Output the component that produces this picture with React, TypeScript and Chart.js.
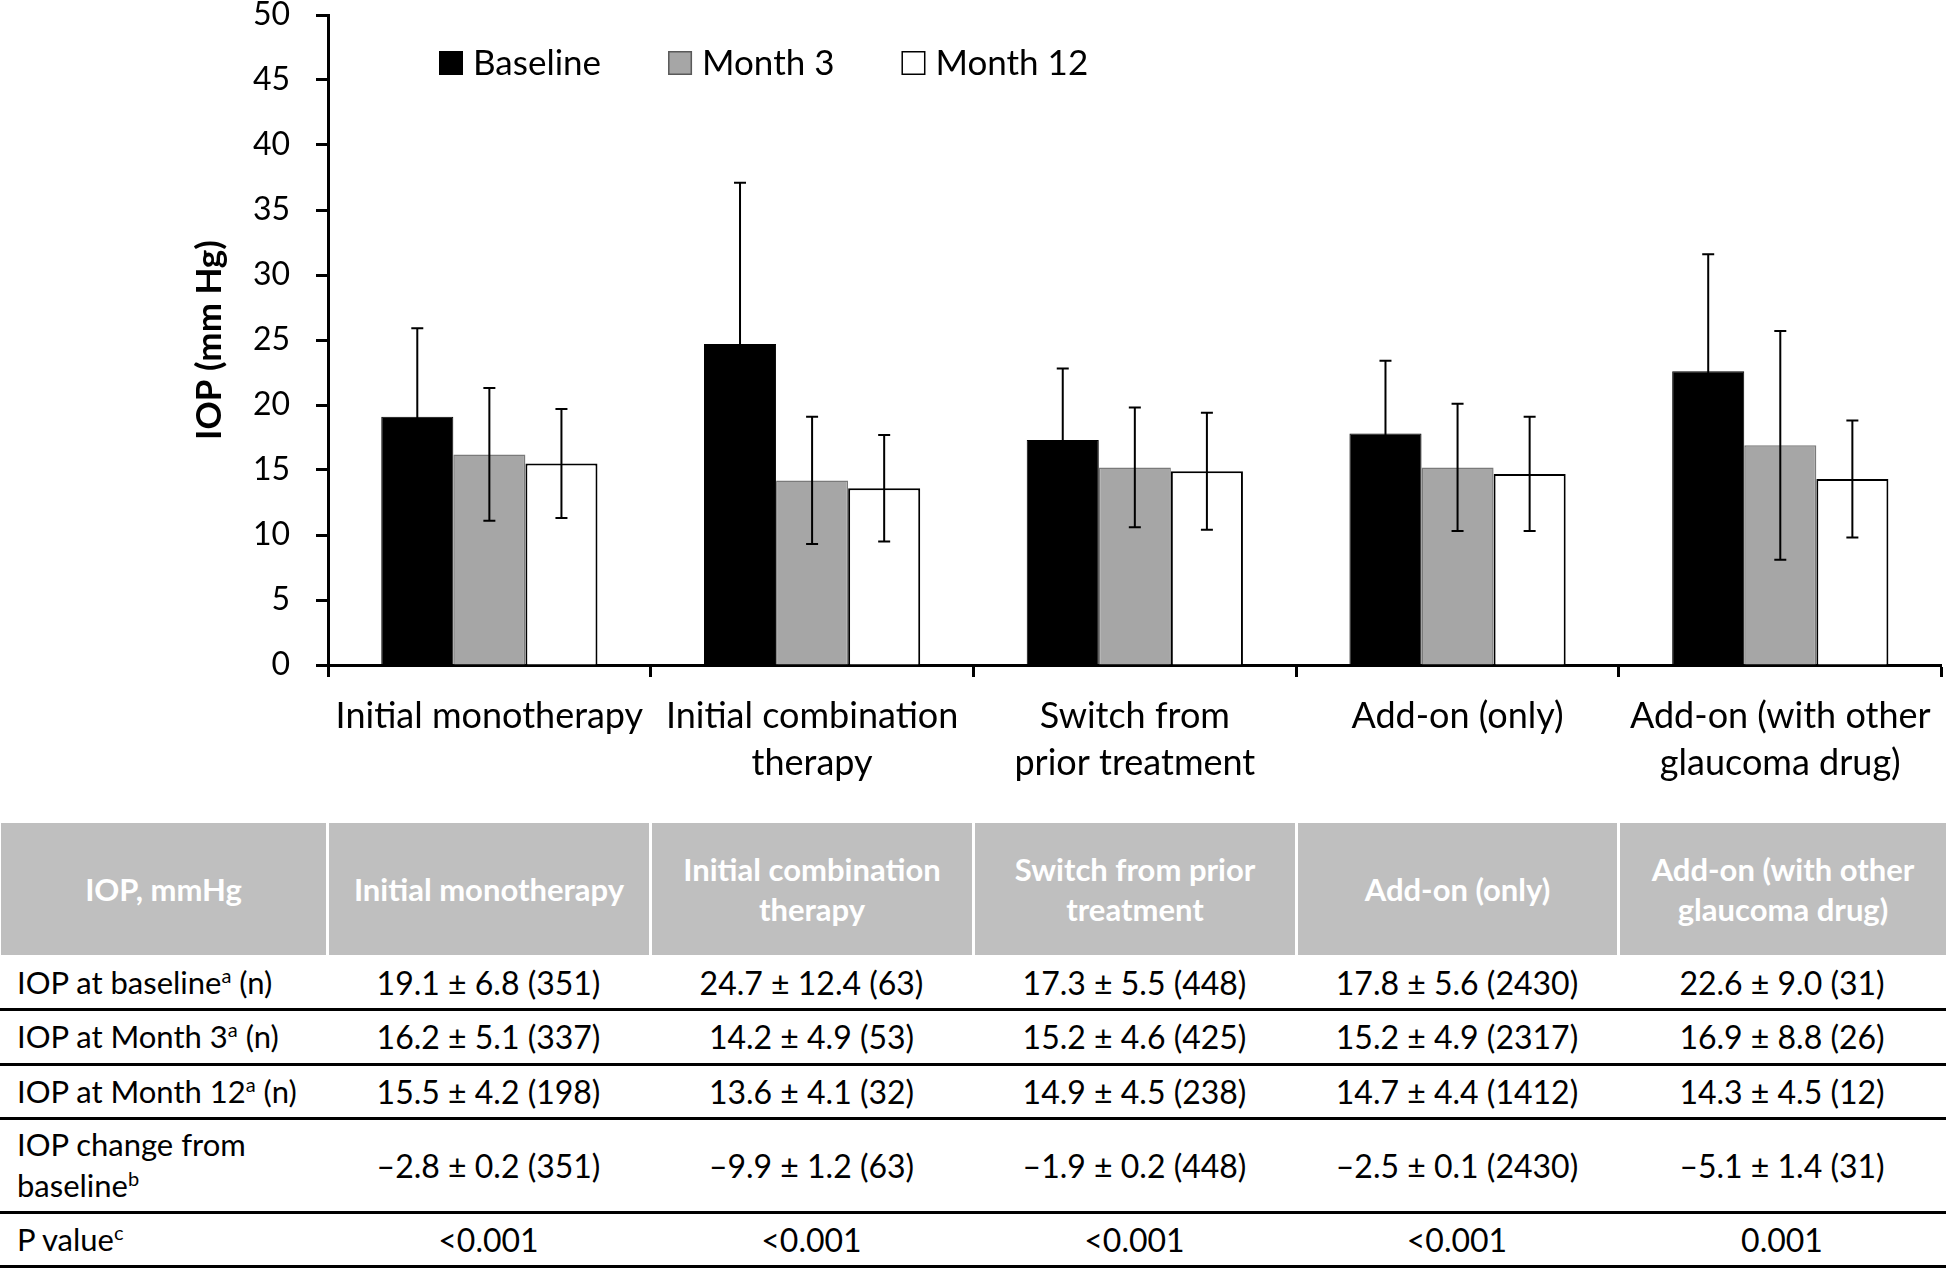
import React, { useEffect, useRef } from "react";
import { Chart, registerables } from "chart.js";

Chart.register(...registerables);

const categories: string[][] = [
  ["Initial monotherapy"],
  ["Initial combination", "therapy"],
  ["Switch from", "prior treatment"],
  ["Add-on (only)"],
  ["Add-on (with other", "glaucoma drug)"],
];
const seriesNames = ["Baseline", "Month 3", "Month 12"];
const baselineMean = [19.1, 24.7, 17.3, 17.8, 22.6];
const baselineSD = [6.8, 12.4, 5.5, 5.6, 9.0];
const month3Mean = [16.2, 14.2, 15.2, 15.2, 16.9];
const month3SD = [5.1, 4.9, 4.6, 4.9, 8.8];
const month12Mean = [15.5, 13.6, 14.9, 14.7, 14.3];
const month12SD = [4.2, 4.1, 4.5, 4.4, 4.5];
const yMin = 0;
const yMax = 50;
const yStep = 5;

// table content
const tableHeader: string[][] = [
  ["IOP, mmHg"],
  ["Initial monotherapy"],
  ["Initial combination", "therapy"],
  ["Switch from prior", "treatment"],
  ["Add-on (only)"],
  ["Add-on (with other", "glaucoma drug)"],
];
const rowLabels: { lines: string[]; sup: string }[] = [
  { lines: ["IOP at baseline"], sup: "a" },
  { lines: ["IOP at Month 3"], sup: "a" },
  { lines: ["IOP at Month 12"], sup: "a" },
  { lines: ["IOP change from", "baseline"], sup: "b" },
  { lines: ["P value"], sup: "c" },
];
const rowBaseline = ["19.1 ± 6.8 (351)", "24.7 ± 12.4 (63)", "17.3 ± 5.5 (448)", "17.8 ± 5.6 (2430)", "22.6 ± 9.0 (31)"];
const rowMonth3 = ["16.2 ± 5.1 (337)", "14.2 ± 4.9 (53)", "15.2 ± 4.6 (425)", "15.2 ± 4.9 (2317)", "16.9 ± 8.8 (26)"];
const rowMonth12 = ["15.5 ± 4.2 (198)", "13.6 ± 4.1 (32)", "14.9 ± 4.5 (238)", "14.7 ± 4.4 (1412)", "14.3 ± 4.5 (12)"];
const rowChange = ["–2.8 ± 0.2 (351)", "–9.9 ± 1.2 (63)", "–1.9 ± 0.2 (448)", "–2.5 ± 0.1 (2430)", "–5.1 ± 1.4 (31)"];
const rowP = ["<0.001", "<0.001", "<0.001", "<0.001", "0.001"];

const FONT = "Lato, 'Open Sans', sans-serif";

const colEdges = [0, 327, 650, 973, 1296, 1618, 1946];
const headerTop = 823;
const headerBottom = 955;
const rowLines = [1009, 1064, 1118, 1212, 1266];

const errorBarPlugin = {
  id: "errorBars",
  afterDatasetsDraw(chart: any, _args: any, opts: any) {
    const ctx = chart.ctx;
    const y = chart.scales.y;
    const sds: number[][] = opts.sds || [];
    chart.data.datasets.forEach((ds: any, i: number) => {
      const meta = chart.getDatasetMeta(i);
      meta.data.forEach((bar: any, j: number) => {
        const m = ds.data[j] as number;
        const s = sds[i][j];
        const yt = y.getPixelForValue(m + s);
        const yb = y.getPixelForValue(m - s);
        const cap = 6;
        ctx.save();
        ctx.strokeStyle = "#000";
        ctx.lineWidth = 2;
        ctx.beginPath();
        ctx.moveTo(bar.x, yt);
        ctx.lineTo(bar.x, yb);
        ctx.moveTo(bar.x - cap, yt);
        ctx.lineTo(bar.x + cap, yt);
        ctx.moveTo(bar.x - cap, yb);
        ctx.lineTo(bar.x + cap, yb);
        ctx.stroke();
        ctx.restore();
      });
    });
  },
};

const insideLegendPlugin = {
  id: "insideLegend",
  afterDraw(chart: any, _args: any, opts: any) {
    const ctx = chart.ctx;
    const area = chart.chartArea;
    let x = area.left + opts.offsetX;
    const cy = area.top + opts.offsetY;
    const box = 24;
    ctx.save();
    ctx.font = `35px ${FONT}`;
    ctx.textBaseline = "middle";
    ctx.textAlign = "left";
    chart.data.datasets.forEach((ds: any) => {
      ctx.fillStyle = ds.backgroundColor;
      ctx.fillRect(x, cy - box / 2, box, box);
      ctx.strokeStyle = ds.legendBorder;
      ctx.lineWidth = 1.5;
      ctx.strokeRect(x + 0.75, cy - box / 2 + 0.75, box - 1.5, box - 1.5);
      ctx.fillStyle = "#000";
      const tx = x + box + 10;
      ctx.fillText(ds.label, tx, cy + 1);
      const w = ctx.measureText(ds.label).width;
      x = tx + w + 67;
    });
    ctx.restore();
  },
};

function ChartBlock() {
  const ref = useRef<HTMLCanvasElement | null>(null);
  useEffect(() => {
    if (!ref.current) return;
    const chart = new Chart(ref.current, {
      type: "bar",
      data: {
        labels: categories,
        datasets: [
          {
            label: seriesNames[0],
            data: baselineMean,
            backgroundColor: "#000000",
            borderColor: "#000000",
            borderWidth: 1,
            legendBorder: "#000000",
          } as any,
          {
            label: seriesNames[1],
            data: month3Mean,
            backgroundColor: "#a6a6a6",
            borderColor: "#7a7a7a",
            borderWidth: 1.5,
            legendBorder: "#595959",
          } as any,
          {
            label: seriesNames[2],
            data: month12Mean,
            backgroundColor: "#ffffff",
            borderColor: "#000000",
            borderWidth: 2,
            legendBorder: "#000000",
          } as any,
        ],
      },
      options: {
        responsive: false,
        animation: false,
        maintainAspectRatio: false,
        layout: { padding: { top: 15, right: 4, left: 0, bottom: 0 } },
        datasets: {
          bar: { categoryPercentage: 0.67, barPercentage: 1.0 },
        },
        plugins: {
          legend: { display: false },
          tooltip: { enabled: false },
          errorBars: { sds: [baselineSD, month3SD, month12SD] },
          insideLegend: { offsetX: 111, offsetY: 48 },
        } as any,
        scales: {
          x: {
            grid: {
              display: true,
              offset: true,
              drawOnChartArea: false,
              drawTicks: true,
              tickLength: 12,
              tickWidth: 3,
              tickColor: "#000",
            },
            border: { display: true, color: "#000", width: 3 },
            ticks: {
              color: "#000",
              font: { family: FONT, size: 36, lineHeight: 1.33 },
              padding: 15,
              maxRotation: 0,
              autoSkip: false,
            },
            afterFit: (scale: any) => {
              scale.height = 135;
            },
          },
          y: {
            min: yMin,
            max: yMax,
            grid: {
              display: true,
              drawOnChartArea: false,
              drawTicks: true,
              tickLength: 12,
              tickWidth: 3,
              tickColor: "#000",
            },
            border: { display: true, color: "#000", width: 3 },
            ticks: {
              stepSize: yStep,
              color: "#000",
              font: { family: FONT, size: 32, lineHeight: 1.0 },
              padding: 26,
            },
            title: {
              display: true,
              text: "IOP (mm Hg)",
              color: "#000",
              font: { family: FONT, size: 35, weight: "bold" },
              padding: { top: 189, bottom: 0 },
            },
            afterFit: (scale: any) => {
              scale.width = 328;
              scale.paddingTop = 0;
              scale.paddingBottom = 0;
            },
          },
        },
      } as any,
      plugins: [errorBarPlugin, insideLegendPlugin],
    });
    return () => chart.destroy();
  }, []);
  return (
    <canvas
      ref={ref}
      width={1946}
      height={800}
      style={{ position: "absolute", left: 0, top: 0, width: 1946, height: 800 }}
    />
  );
}

function Table() {
  const bodyRows = [rowBaseline, rowMonth3, rowMonth12, rowChange, rowP];
  const rowTops = [headerBottom, ...rowLines.slice(0, 4)];
  const rowBottoms = rowLines;
  const cells: React.ReactNode[] = [];
  for (let c = 0; c < 6; c++) {
    const left = colEdges[c] + (c === 0 ? 1 : 2);
    const right = colEdges[c + 1] - (c === 5 ? 0 : 1);
    cells.push(
      <div
        key={"h" + c}
        style={{
          position: "absolute",
          left,
          top: headerTop,
          width: right - left,
          height: headerBottom - headerTop,
          background: "#bfbfbf",
          color: "#fff",
          fontFamily: FONT,
          fontWeight: 700,
          fontSize: 31,
          lineHeight: "40px",
          display: "flex",
          flexDirection: "column",
          alignItems: "center",
          justifyContent: "center",
          textAlign: "center",
        }}
      >
        {tableHeader[c].map((l, i) => (
          <div key={i}>{l}</div>
        ))}
      </div>
    );
  }
  for (let r = 0; r < 5; r++) {
    const top = rowTops[r];
    const h = rowBottoms[r] - top;
    const lab = rowLabels[r];
    cells.push(
      <div
        key={"l" + r}
        style={{
          position: "absolute",
          left: 17,
          top,
          width: colEdges[1] - 17,
          height: h,
          fontFamily: FONT,
          fontSize: 31,
          lineHeight: "41px",
          color: "#000",
          display: "flex",
          flexDirection: "column",
          justifyContent: "center",
        }}
      >
        {lab.lines.map((l, i) => (
          <div key={i} style={{ whiteSpace: "nowrap" }}>
            {l}
            {i === lab.lines.length - 1 ? (
              <>
                <sup style={{ fontSize: 20, lineHeight: 0, verticalAlign: "0.55em" }}>{lab.sup}</sup>
                {r < 3 ? " (n)" : ""}
              </>
            ) : null}
          </div>
        ))}
      </div>
    );
    for (let c = 0; c < 5; c++) {
      cells.push(
        <div
          key={"c" + r + "_" + c}
          style={{
            position: "absolute",
            left: colEdges[c + 1],
            top,
            width: colEdges[c + 2] - colEdges[c + 1],
            height: h,
            fontFamily: FONT,
            fontSize: 32,
            color: "#000",
            display: "flex",
            alignItems: "center",
            justifyContent: "center",
            whiteSpace: "nowrap",
          }}
        >
          {bodyRows[r][c]}
        </div>
      );
    }
  }
  rowLines.forEach((y, i) => {
    cells.push(
      <div
        key={"line" + i}
        style={{ position: "absolute", left: 0, top: y - 1.5, width: 1946, height: 3, background: "#000" }}
      />
    );
  });
  return <>{cells}</>;
}

export default function App() {
  return (
    <div
      style={{
        position: "absolute",
        left: 0,
        top: 0,
        width: 1946,
        height: 1268,
        background: "#fff",
        overflow: "hidden",
      }}
    >
      <ChartBlock />
      <Table />
    </div>
  );
}
